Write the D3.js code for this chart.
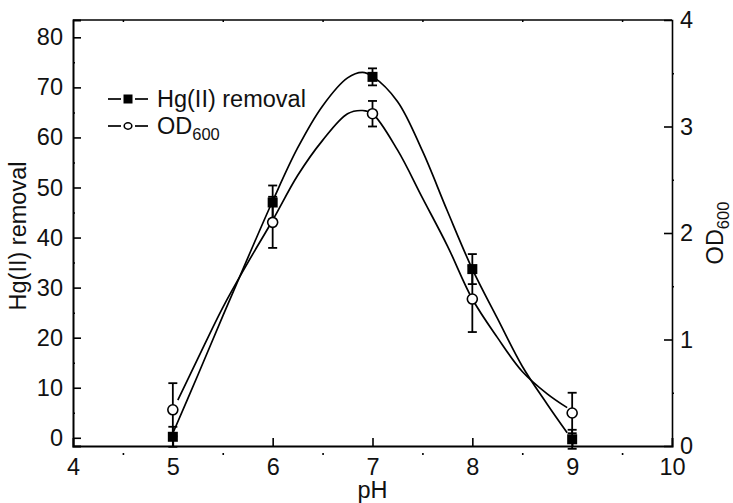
<!DOCTYPE html>
<html>
<head>
<meta charset="utf-8">
<script src="https://cdn.jsdelivr.net/npm/d3@7"></script>
<style>
  body { margin: 0; background: #fff; }
  text { font-family: "Liberation Sans", Arial, sans-serif; fill: #111; }
</style>
</head>
<body>
<div id="chart"></div>
<script>
// measured points
var phPoints = [5, 6, 7, 8, 9];
var hgRemoval = [0.2, 47.0, 72.1, 33.7, -0.3];
var hgError = [2.0, 3.4, 1.7, 3.0, 1.9];
var odValue = [0.34, 2.10, 3.12, 1.38, 0.31];
var odError = [0.25, 0.24, 0.12, 0.31, 0.19];

// fitted curves
var hgFitPH = [5.0, 5.25, 5.5, 5.75, 6.0, 6.25, 6.5, 6.75, 6.9, 7.0, 7.25, 7.5, 7.75, 8.0, 8.25, 8.5, 8.75, 8.95];
var hgFit = [0.9, 12.5, 24.3, 35.9, 47.3, 57.9, 66.3, 71.9, 73.0, 72.2, 67.2, 57.3, 45.3, 33.7, 23.9, 14.3, 6.7, 1.0];
var odFitPH = [5.05, 5.25, 5.5, 5.75, 6.0, 6.25, 6.5, 6.75, 6.9, 7.0, 7.25, 7.5, 7.75, 8.0, 8.25, 8.5, 8.75, 8.95];
var odFit = [0.43, 0.82, 1.30, 1.72, 2.12, 2.54, 2.87, 3.12, 3.15, 3.12, 2.78, 2.33, 1.88, 1.38, 1.02, 0.70, 0.49, 0.36];

var xTicks = [4, 5, 6, 7, 8, 9, 10];
var leftTicks = [0, 10, 20, 30, 40, 50, 60, 70, 80];
var rightTicks = [0, 1, 2, 3, 4];
var legendLabels = ["Hg(II) removal", "OD"];

var width = 733, height = 503;
var pLeft = 73, pRight = 672, pTop = 20, pBottom = 446;
var fs = 23.5;

var svg = d3.select("#chart").append("svg")
  .attr("width", width)
  .attr("height", height);

svg.append("rect").attr("width", width).attr("height", height).attr("fill", "#fff");

var x = d3.scaleLinear().domain([4, 10]).range([pLeft, pRight]);
var yL = d3.scaleLinear().domain([-1.64, 83.46]).range([pBottom, pTop]);
var yR = d3.scaleLinear().domain([0, 4]).range([pBottom, pTop]);

// frame top
svg.append("line").attr("x1", pLeft).attr("x2", pRight).attr("y1", pTop).attr("y2", pTop)
  .attr("stroke", "#000").attr("stroke-width", 1.6);

// minor ticks
var halves = d3.range(4.5, 10, 1);
var gMinX = svg.append("g").attr("transform", "translate(0," + pBottom + ")")
  .call(d3.axisBottom(x).tickValues(halves).tickSize(10).tickFormat(""));
gMinX.select(".domain").remove();
gMinX.selectAll("line").attr("y1", 7).attr("y2", 9).attr("stroke-width", 1.6);

var gMinTop = svg.append("g").attr("transform", "translate(0," + pTop + ")")
  .call(d3.axisTop(x).tickValues(halves).tickSize(-2).tickFormat(""));
gMinTop.select(".domain").remove();
gMinTop.selectAll("line").attr("stroke-width", 1.5);

var gMinL = svg.append("g").attr("transform", "translate(" + pLeft + ",0)")
  .call(d3.axisLeft(yL).tickValues(d3.range(5, 80, 10)).tickSize(-2).tickFormat(""));
gMinL.select(".domain").remove();
gMinL.selectAll("line").attr("stroke-width", 1.5);

var gMinR = svg.append("g").attr("transform", "translate(" + pRight + ",0)")
  .call(d3.axisRight(yR).tickValues([0.5, 1.5, 2.5, 3.5]).tickSize(2).tickFormat(""));
gMinR.select(".domain").remove();
gMinR.selectAll("line").attr("stroke-width", 1.5);

// main axes
var gx = svg.append("g").attr("transform", "translate(0," + pBottom + ")")
  .call(d3.axisBottom(x).tickValues(xTicks).tickSize(-8).tickPadding(12).tickFormat(d3.format("d")));
var gl = svg.append("g").attr("transform", "translate(" + pLeft + ",0)")
  .call(d3.axisLeft(yL).tickValues(leftTicks).tickSize(-8).tickPadding(10).tickFormat(d3.format("d")));
var gr = svg.append("g").attr("transform", "translate(" + pRight + ",0)")
  .call(d3.axisRight(yR).tickValues(rightTicks).tickSize(-8).tickPadding(8).tickFormat(d3.format("d")));

[gx, gl, gr].forEach(function(g) {
  g.selectAll("text").style("font-size", fs + "px").attr("fill", "#111")
    .style("font-family", '"Liberation Sans", Arial, sans-serif');
  g.selectAll(".tick line").attr("stroke-width", 1.6);
  g.select(".domain").attr("stroke-width", 2);
});
gr.select(".domain").attr("stroke-width", 1.6);
gx.selectAll(".tick").filter(function(d){ return d === 4 || d === 10; }).select("line").remove();
gr.selectAll(".tick").filter(function(d){ return d === 0 || d === 4; }).select("line").remove();

// axis titles
svg.append("text").attr("x", (pLeft + pRight) / 2).attr("y", 498)
  .attr("text-anchor", "middle").style("font-size", fs + "px").text("pH");
svg.append("text").attr("transform", "translate(26,236) rotate(-90)")
  .attr("text-anchor", "middle").style("font-size", fs + "px").text("Hg(II) removal");
var odTitle = svg.append("text").attr("transform", "translate(723,233) rotate(-90)")
  .attr("text-anchor", "middle").style("font-size", fs + "px");
odTitle.append("tspan").text("OD");
odTitle.append("tspan").attr("dy", 6).style("font-size", "16.5px").text("600");

// fitted curves
var line = d3.line().curve(d3.curveCatmullRom.alpha(0.5));
svg.append("path")
  .attr("d", line(hgFitPH.map(function(p, i) { return [x(p), yL(hgFit[i])]; })))
  .attr("fill", "none").attr("stroke", "#000").attr("stroke-width", 1.7);
svg.append("path")
  .attr("d", line(odFitPH.map(function(p, i) { return [x(p), yR(odFit[i])]; })))
  .attr("fill", "none").attr("stroke", "#000").attr("stroke-width", 1.7);

// error bars
function errorBars(vals, errs, y) {
  var g = svg.append("g").attr("stroke", "#000").attr("stroke-width", 1.8);
  phPoints.forEach(function(p, i) {
    var cx = x(p), y1 = y(vals[i] - errs[i]), y2 = y(vals[i] + errs[i]);
    g.append("line").attr("x1", cx).attr("x2", cx).attr("y1", y1).attr("y2", y2);
    g.append("line").attr("x1", cx - 4.5).attr("x2", cx + 4.5).attr("y1", y1).attr("y2", y1);
    g.append("line").attr("x1", cx - 4.5).attr("x2", cx + 4.5).attr("y1", y2).attr("y2", y2);
  });
}
errorBars(hgRemoval, hgError, yL);
errorBars(odValue, odError, yR);

// markers
svg.selectAll(".sq").data(phPoints).enter().append("rect")
  .attr("x", function(d) { return x(d) - 5; })
  .attr("y", function(d, i) { return yL(hgRemoval[i]) - 5; })
  .attr("width", 10).attr("height", 10).attr("fill", "#000");
svg.selectAll(".ci").data(phPoints).enter().append("circle")
  .attr("cx", function(d) { return x(d); })
  .attr("cy", function(d, i) { return yR(odValue[i]); })
  .attr("r", 5).attr("fill", "#fff").attr("stroke", "#000").attr("stroke-width", 1.6);

// legend
var lg = svg.append("g");
var legY = [99, 126];
legY.forEach(function(ly, i) {
  lg.append("line").attr("x1", 108).attr("x2", 121).attr("y1", ly).attr("y2", ly)
    .attr("stroke", "#000").attr("stroke-width", 1.7);
  lg.append("line").attr("x1", 135).attr("x2", 148).attr("y1", ly).attr("y2", ly)
    .attr("stroke", "#000").attr("stroke-width", 1.7);
  if (i === 0) {
    lg.append("rect").attr("x", 123.5).attr("y", ly - 4.5).attr("width", 9).attr("height", 9).attr("fill", "#000");
  } else {
    lg.append("ellipse").attr("cx", 128).attr("cy", ly).attr("rx", 3.8).attr("ry", 3.2)
      .attr("fill", "#fff").attr("stroke", "#000").attr("stroke-width", 1.6);
  }
  var t = lg.append("text").attr("x", 157).attr("y", ly + 8).style("font-size", fs + "px");
  t.append("tspan").text(legendLabels[i]);
  if (i === 1) t.append("tspan").attr("dy", 6).style("font-size", "16.5px").text("600");
});
</script>
</body>
</html>
